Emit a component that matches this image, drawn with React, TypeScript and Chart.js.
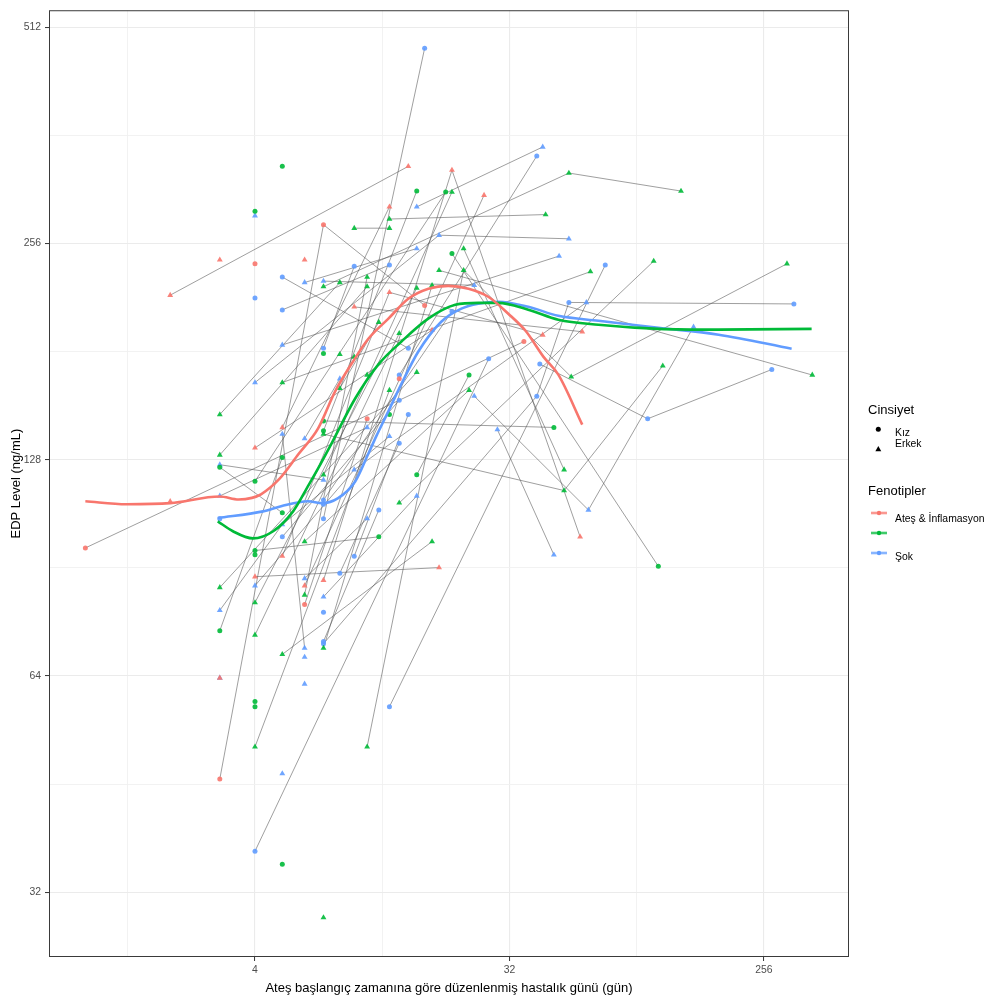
import React, { useEffect, useRef } from 'react';
import { Chart, registerables } from 'chart.js';
Chart.register(...registerables);

// ---------- DATA ----------
// Per-patient data (phenotype, sex, days, EDP values)
const hastaFenotip = [
  'AI','AI','AI','AI','AI','AI','AI','AI','AI','AI','AI','AI',
  'AI','AI','AI','AI','AI',
  'X','X','X','X','X','X','X','X','X','X','X','X','X','X','X','X','X','X','X','X','X','X','X','X','X',
  'X','X','X','X','X','X','X','X','X','X','X','X','X','X','X','X',
  'S','S','S','S','S','S','S','S','S','S','S','S','S','S','S','S','S','S','S','S',
  'S','S','S','S','S','S','S','S','S','S','S','S','S','S','S','S','S','S',
];
const hastaCinsiyet = [
  'E','E','E','E','E','E','E','E','E','E','E','E',
  'K','K','K','K','K',
  'E','E','E','E','E','E','E','E','E','E','E','E','E','E','E','E','E','E','E','E','E','E','E','E','E',
  'K','K','K','K','K','K','K','K','K','K','K','K','K','K','K','K',
  'E','E','E','E','E','E','E','E','E','E','E','E','E','E','E','E','E','E','E','E',
  'K','K','K','K','K','K','K','K','K','K','K','K','K','K','K','K','K','K',
];
const hastaGunleri: number[][] = [
  [2,14],[7,20,57],[4,18],[4,17],[5,12],[5,12,42],[6,26],[9,58],[3],[6],[3],[2],
  [3,7,16],[1,36],[6,10],[4],[13],
  [7,52,130],[9,12],[12,43],[22,50],[7,50,112],[10,22,53,309],[18,380],[4,12],[5,17],[4,13],
  [4,15],[3,15],[6,10],[7,17],[6,23],[7,20],[13,104],[3,10],[3,8],[5,62],[8,11],[10],[8],[9],[7],
  [4,11],[3,5],[3,5],[4,19],[7,15],[15,23],[7,46],[20,108],[5],[4],[7],[12],[4],[4],[4],[5],
  [15,42],[6,15],[4,18,52],[24,61,144],[29,46],[4,9,60],[3,7],[5,48],[7,24],[6,8],[3,5,12],
  [3,10],[6,10],[7,15],[5,6],[6],[6],[5],[3],[4],
  [7,16],[5,14],[5,12],[7,40,52,327],[41,99,273],[4,27],[12,70],[13,40],[7,20],[7,9],[5,13],
  [9,14],[8,13],[7,11],[4],[7],[3],[7],
];
const hastaEdp: number[][] = [
  [217,328],[87,324,100],[88,90.6],[133,194],[142,288],[94,219,191],[85.5,299],[209,193],[243],[243],[63.6],[112],
  [46,272,210],[96.5,187],[80.5,146],[240],[166],
  [223,321,303],[269,269],[277,281],[252,124],[139,116,173],[51,235,167,240],[235,168],[51,160],[68.6,98.5],[73,192],
  [81,222],[85,169.5],[83,230],[70,224],[98.5,160],[122,302],[111.5,242],[130,223],[148,226],[164,234],[161,199],[168],[179.5],[178],[29.5],
  [95.7,100],[125,108],[74,129],[119.5,302],[140.5,303],[122,168],[145,142],[248,91],[328],[284],[180],[148],[94.4],[59],[58],[35],
  [288,349],[226,252],[164,263,260],[157,109,196],[141,94.4],[85.5,124,212],[126,120],[185,246],[227,224],[137,166],[79,104,138],
  [114,142],[87.5,106],[82.5,114],[139,70],[68],[62.4],[46.8],[63.6],[280],
  [106,479],[230,183],[207,239],[71,157,212,211],[174,146,171],[36.5,177],[58,239],[168,339],[112.5,206],[183,238],[100,155],
  [94,148],[89,135],[71.5,109],[215],[111],[106],[78.5],
];

// Smoothed trends per phenotype
const egriGunAI = [1, 1.4, 2, 3, 3.5, 3.9, 4.2, 4.9, 5.7, 6.7, 7.7, 8.9, 10.1, 11.9, 14, 16.5, 19.4, 22.9, 26.9, 31.7, 36.5, 42.2, 47.7, 58];
const egriEdpAI = [112.1, 111.0, 111.4, 113.8, 112.7, 113.3, 114.6, 120.6, 130.3, 141.6, 159.4, 175.3, 188.7, 201.3, 214.5, 221.5, 223.6, 221.5, 215.9, 204.5, 193.6, 178.2, 168.2, 143.3];
const egriGunX = [2.95, 3.34, 3.93, 4.64, 5.46, 6.22, 6.7, 7.45, 9.07, 10.95, 13.21, 16.48, 20.55, 24.8, 29.2, 37.3, 47.7, 66.2, 108.2, 176.8, 378];
const egriEdpX = [105.1, 101.8, 99.5, 101.8, 108.5, 118.3, 124.5, 134.5, 155.8, 173.7, 186.9, 201.3, 210.4, 211.7, 211.7, 207.1, 200.6, 197.4, 194.8, 194.3, 194.8];
const egriGunS = [2.95, 4.27, 4.95, 6.17, 6.92, 7.89, 9.07, 10.08, 10.77, 11.88, 13.21, 15.18, 18.33, 21.6, 24.8, 29.2, 37.3, 47.7, 66.2, 108.2, 176.8, 321];
const egriEdpS = [106.2, 108.5, 110.3, 112.1, 111.4, 113.2, 119.4, 130.3, 138.0, 149.4, 163.0, 181.0, 199.3, 207.8, 211.1, 212.5, 209.1, 203.1, 199.9, 195.5, 191.2, 182.8];

// Axis ticks and limits (data units)
const xAnaTikler = [4, 32, 256];
const yAnaTikler = [32, 64, 128, 256, 512];
const gunSinir = [0.743, 513];
const edpSinir = [26.0, 541];

// Legend labels
const fenotipKodlari = ['AI', 'X', 'S'];
const fenotipEtiketleri = ['Ateş & İnflamasyon', '', 'Şok'];
const cinsiyetKodlari = ['K', 'E'];
const cinsiyetEtiketleri = ['Kız', 'Erkek'];

// ---------- STYLE ----------
const renk: Record<string, string> = { AI: '#F8766D', X: '#00BA38', S: '#619CFF' };
const renkA: Record<string, string> = {
  AI: 'rgba(248,118,109,0.9)', X: 'rgba(0,186,56,0.9)', S: 'rgba(97,156,255,0.9)',
};
const FONT = '"Liberation Sans", Arial, Helvetica, sans-serif';

const L = (v: number) => Math.log2(v);

function tickList(majors: number[], lo: number, hi: number) {
  const m = majors.map(L);
  const step = m[1] - m[0];
  const out: number[] = [];
  for (let v = m[0] - step; v <= m[m.length - 1] + step + 1e-9; v += step / 2) {
    if (v >= lo && v <= hi) out.push(Math.round(v * 1000) / 1000);
  }
  return out;
}

const panelBorder = {
  id: 'panelBorder',
  afterDatasetsDraw(chart: any) {
    const { ctx, chartArea } = chart;
    ctx.save();
    ctx.strokeStyle = '#3a3a3a';
    ctx.lineWidth = 1;
    ctx.strokeRect(chartArea.left + 0.5, chartArea.top + 0.5, chartArea.right - chartArea.left - 1, chartArea.bottom - chartArea.top - 1);
    ctx.restore();
  },
};

export default function App() {
  const ref = useRef<HTMLCanvasElement>(null);

  useEffect(() => {
    const canvas = ref.current;
    if (!canvas) return;
    const datasets: any[] = [];

    // patient trajectories
    hastaGunleri.forEach((gl, i) => {
      if (gl.length < 2) return;
      const pts = gl
        .map((g, j) => ({ x: L(g), y: L(hastaEdp[i][j]) }))
        .sort((a, b) => a.x - b.x);
      datasets.push({
        data: pts,
        showLine: true,
        borderColor: 'rgba(80,80,80,0.55)',
        borderWidth: 1,
        pointRadius: 0,
        tension: 0,
        order: 3,
      });
    });

    // points by phenotype x sex
    fenotipKodlari.forEach((f) => {
      cinsiyetKodlari.forEach((c) => {
        const pts: { x: number; y: number }[] = [];
        hastaGunleri.forEach((gl, i) => {
          if (hastaFenotip[i] !== f || hastaCinsiyet[i] !== c) return;
          gl.forEach((g, j) => pts.push({ x: L(g), y: L(hastaEdp[i][j]) }));
        });
        datasets.push({
          data: pts,
          showLine: false,
          pointStyle: c === 'K' ? 'circle' : 'triangle',
          pointRadius: c === 'K' ? 2.5 : 3.4,
          pointBackgroundColor: renkA[f],
          pointBorderWidth: 0,
          pointBorderColor: 'rgba(0,0,0,0)',
          order: 2,
        });
      });
    });

    // smooth curves
    const egriler: [string, number[], number[]][] = [
      ['AI', egriGunAI, egriEdpAI],
      ['X', egriGunX, egriEdpX],
      ['S', egriGunS, egriEdpS],
    ];
    egriler.forEach(([f, gx, ey]) => {
      datasets.push({
        data: gx.map((g, j) => ({ x: L(g), y: L(ey[j]) })),
        showLine: true,
        borderColor: renk[f],
        borderWidth: 2.6,
        pointRadius: 0,
        cubicInterpolationMode: 'monotone',
        order: 1,
      });
    });

    const xMin = L(gunSinir[0]);
    const xMax = L(gunSinir[1]);
    const yMin = L(edpSinir[0]);
    const yMax = L(edpSinir[1]);
    const xTicks = tickList(xAnaTikler, xMin, xMax);
    const yTicks = tickList(yAnaTikler, yMin, yMax);
    const xMajors = xAnaTikler.map(L);
    const yMajors = yAnaTikler.map(L);
    const isMajor = (v: number, arr: number[]) => arr.some((m) => Math.abs(m - v) < 1e-6);

    const gridFor = (arr: number[]) => ({
      color: (ctx: any) => (ctx.tick && isMajor(ctx.tick.value, arr) ? '#EBEBEB' : '#F1F1F1'),
      lineWidth: (ctx: any) => (ctx.tick && isMajor(ctx.tick.value, arr) ? 1.1 : 0.9),
      tickColor: (ctx: any) => (ctx.tick && isMajor(ctx.tick.value, arr) ? '#333333' : 'rgba(0,0,0,0)'),
      tickLength: 4,
      tickWidth: 1,
      drawTicks: true,
    });

    const chart = new Chart(canvas, {
      type: 'scatter',
      data: { datasets },
      plugins: [panelBorder],
      options: {
        responsive: false,
        animation: false,
        events: [],
        layout: { padding: { left: 0, right: 141, top: 6, bottom: 0 } },
        plugins: { legend: { display: false }, tooltip: { enabled: false } },
        scales: {
          x: {
            type: 'linear',
            min: xMin,
            max: xMax,
            bounds: 'data',
            afterBuildTicks: (s: any) => {
              s.ticks = xTicks.map((v) => ({ value: v }));
            },
            afterFit: (s: any) => {
              s.height = 46;
            },
            grid: gridFor(xMajors),
            border: { display: false },
            ticks: {
              autoSkip: false,
              maxRotation: 0,
              padding: 3,
              color: '#4D4D4D',
              font: { family: FONT, size: 10.4 },
              callback: (v: any) => (isMajor(Number(v), xMajors) ? String(Math.round(2 ** Number(v))) : ''),
            },
            title: {
              display: true,
              text: 'Ateş başlangıç zamanına göre düzenlenmiş hastalık günü (gün)',
              color: '#000000',
              font: { family: FONT, size: 13 },
              padding: { top: 0, bottom: 7 },
            },
          },
          y: {
            type: 'linear',
            min: yMin,
            max: yMax,
            bounds: 'data',
            afterBuildTicks: (s: any) => {
              s.ticks = yTicks.map((v) => ({ value: v }));
            },
            afterFit: (s: any) => {
              s.width = 49;
            },
            grid: gridFor(yMajors),
            border: { display: false },
            ticks: {
              autoSkip: false,
              padding: 4,
              color: '#4D4D4D',
              font: { family: FONT, size: 10.4 },
              callback: (v: any) => (isMajor(Number(v), yMajors) ? String(Math.round(2 ** Number(v))) : ''),
            },
            title: {
              display: true,
              text: 'EDP Level (ng/mL)',
              color: '#000000',
              font: { family: FONT, size: 13 },
              padding: { top: 9, bottom: 0 },
            },
          },
        },
      } as any,
    });
    return () => chart.destroy();
  }, []);

  const tri = (cx: number, cy: number, r: number) => {
    const p: string[] = [];
    for (let k = 0; k < 3; k++) {
      const a = (k * 2 * Math.PI) / 3;
      p.push(`${cx + Math.sin(a) * r},${cy - Math.cos(a) * r}`);
    }
    return p.join(' ');
  };

  const keyY = [513, 533, 553];
  const keyTextY = [518, 535, 556];

  return (
    <div style={{ position: 'absolute', left: 0, top: 0, width: 990, height: 1003, background: '#ffffff' }}>
      <canvas ref={ref} width={990} height={1003} style={{ display: 'block', width: 990, height: 1003 }} />
      <svg
        width={990}
        height={1003}
        style={{ position: 'absolute', left: 0, top: 0, pointerEvents: 'none' }}
        fontFamily={FONT}
      >
        <text x={868} y={409} fontSize={13} dominantBaseline="central" fill="#000">Cinsiyet</text>
        <circle cx={878.3} cy={429.3} r={2.5} fill="#000" />
        <polygon points={tri(878.3, 449.5, 3.4)} fill="#000" />
        <text x={895} y={432.5} fontSize={10.4} dominantBaseline="central" fill="#000">{cinsiyetEtiketleri[0]}</text>
        <text x={895} y={443.5} fontSize={10.4} dominantBaseline="central" fill="#000">{cinsiyetEtiketleri[1]}</text>

        <text x={868} y={490} fontSize={13} dominantBaseline="central" fill="#000">Fenotipler</text>
        {fenotipKodlari.map((f, i) => (
          <g key={f}>
            <line x1={871} x2={887} y1={keyY[i]} y2={keyY[i]} stroke={renk[f]} strokeWidth={2.6} opacity={0.75} />
            <circle cx={879} cy={keyY[i]} r={2.2} fill={renk[f]} />
            <text x={895} y={keyTextY[i]} fontSize={10.4} dominantBaseline="central" fill="#000">{fenotipEtiketleri[i]}</text>
          </g>
        ))}
      </svg>
    </div>
  );
}
